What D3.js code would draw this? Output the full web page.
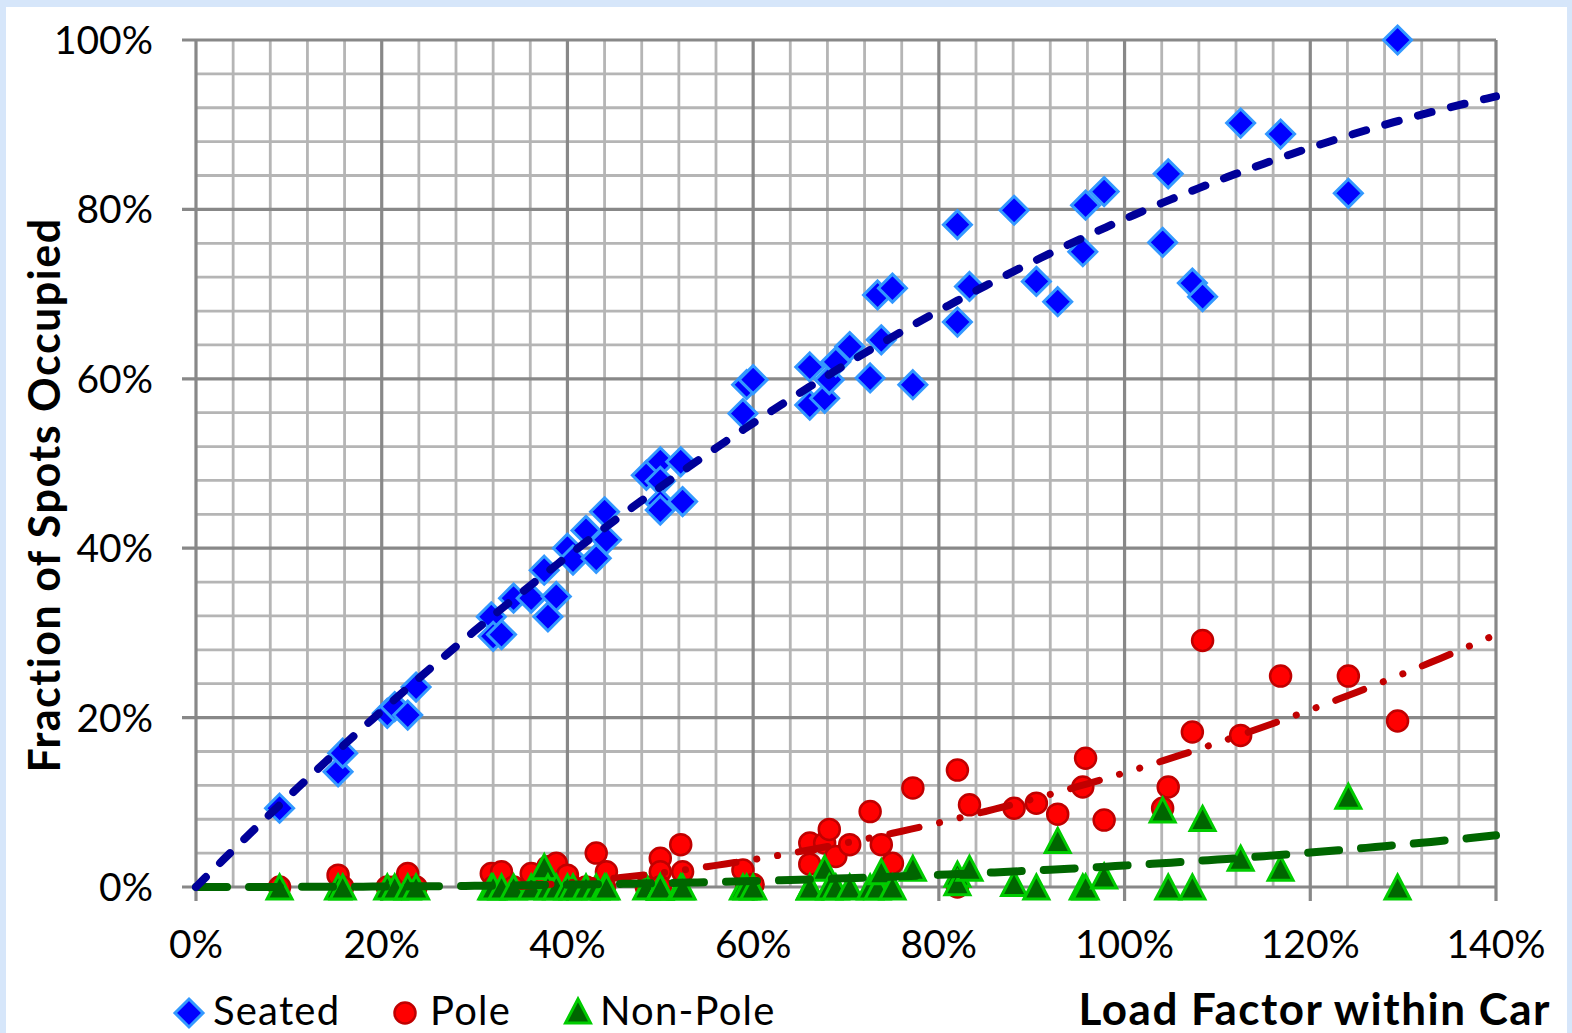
<!DOCTYPE html>
<html>
<head>
<meta charset="utf-8">
<script src="https://cdn.jsdelivr.net/npm/d3@7"></script>
<style>
  html, body { margin: 0; padding: 0; background: #d6e6fa; }
  svg { display: block; font-family: Lato, "Open Sans", sans-serif; }
</style>
</head>
<body>
<svg id="chart" width="1572" height="1033"></svg>
<script>
// load factor within car for each observation
let loadFactor = [
  0.090, 0.153, 0.158, 0.206, 0.214, 0.228, 0.237, 0.318, 0.320, 0.329,
  0.342, 0.361, 0.375, 0.379, 0.388, 0.400, 0.406, 0.420, 0.431, 0.440,
  0.442, 0.485, 0.500, 0.500, 0.500, 0.500, 0.522, 0.524, 0.589, 0.593,
  0.600, 0.661, 0.661, 0.677, 0.682, 0.689, 0.704, 0.726, 0.734, 0.738,
  0.750, 0.772, 0.820, 0.820, 0.833, 0.881, 0.905, 0.928, 0.955, 0.958,
  0.978, 1.041, 1.047, 1.073, 1.084, 1.125, 1.168, 1.241, 1.294
];
let seated = [
  0.093, 0.136, 0.158, 0.205, 0.213, 0.203, 0.236, 0.319, 0.296, 0.298,
  0.341, 0.341, 0.374, 0.319, 0.343, 0.400, 0.386, 0.421, 0.388, 0.443,
  0.410, 0.486, 0.502, 0.479, 0.453, 0.445, 0.502, 0.455, 0.559, 0.593,
  0.599, 0.569, 0.614, 0.577, 0.599, 0.620, 0.638, 0.601, 0.699, 0.646,
  0.707, 0.593, 0.782, 0.667, 0.709, 0.799, 0.715, 0.691, 0.750, 0.805,
  0.821, 0.761, 0.842, 0.713, 0.697, 0.902, 0.889, 0.819, 1.000
];
let pole = [
  0.000, 0.014, 0.000, 0.000, 0.000, 0.016, 0.000, 0.016, 0.000, 0.018,
  0.000, 0.016, 0.000, 0.024, 0.028, 0.014, 0.000, 0.000, 0.040, 0.000,
  0.018, 0.000, 0.034, 0.018, 0.000, 0.000, 0.050, 0.018, 0.020, 0.000,
  0.003, 0.027, 0.052, 0.052, 0.068, 0.036, 0.050, 0.089, 0.000, 0.050,
  0.028, 0.117, 0.138, 0.000, 0.097, 0.093, 0.099, 0.086, 0.118, 0.152,
  0.079, 0.093, 0.118, 0.183, 0.291, 0.179, 0.249, 0.249, 0.196
];
let nonPole = [
  0.000, 0.000, 0.000, 0.000, 0.000, 0.000, 0.000, 0.000, 0.000, 0.000,
  0.000, 0.000, 0.024, 0.000, 0.000, 0.000, 0.000, 0.000, 0.000, 0.000,
  0.000, 0.000, 0.000, 0.000, 0.000, 0.000, 0.000, 0.000, 0.000, 0.000,
  0.000, 0.000, 0.000, 0.022, 0.000, 0.000, 0.000, 0.000, 0.000, 0.018,
  0.000, 0.022, 0.015, 0.005, 0.022, 0.004, 0.000, 0.055, 0.000, 0.000,
  0.013, 0.091, 0.000, 0.000, 0.081, 0.034, 0.022, 0.107, 0.000
];

// polynomial trendline coefficients (c0 + c1 x + c2 x^2 + c3 x^3)
let seatedTrend = [0, 1.104, -0.323, 0.0076];
let poleTrend = [0, -0.0733, 0.2176, -0.0094];
let nonPoleTrend = [0, 0, 0.01084, 0.01448];

let xTicks = [0, 0.2, 0.4, 0.6, 0.8, 1.0, 1.2, 1.4];
let yTicks = [0, 0.2, 0.4, 0.6, 0.8, 1.0];
let legendNames = ["Seated", "Pole", "Non-Pole"];

let svg = d3.select("#chart");

// white panel inside the blue frame
svg.append("rect")
  .attr("x", 6).attr("y", 7).attr("width", 1561).attr("height", 1040)
  .attr("fill", "#ffffff");

let plotLeft = 196, plotRight = 1496, plotTop = 40, plotBottom = 887;

let x = d3.scaleLinear().domain([0, 1.4]).range([plotLeft, plotRight]);
let y = d3.scaleLinear().domain([0, 1]).range([plotBottom, plotTop]);

let grid = svg.append("g");
let minorX = d3.range(0, 36).map((i) => +(i * 0.04).toFixed(2));
let minorY = d3.range(0, 26).map((i) => +(i * 0.04).toFixed(2));

grid.selectAll(".minor-x")
  .data(minorX.filter((d) => Math.round(d * 100) % 20 !== 0))
  .enter().append("line")
  .attr("x1", (d) => x(d)).attr("x2", (d) => x(d))
  .attr("y1", plotTop).attr("y2", plotBottom)
  .attr("stroke", "#b5b5b5").attr("stroke-width", 2.8);

grid.selectAll(".minor-y")
  .data(minorY.filter((d) => Math.round(d * 100) % 20 !== 0))
  .enter().append("line")
  .attr("x1", plotLeft).attr("x2", plotRight)
  .attr("y1", (d) => y(d)).attr("y2", (d) => y(d))
  .attr("stroke", "#b5b5b5").attr("stroke-width", 2.8);

// major lines with outward ticks
grid.selectAll(".major-x")
  .data(xTicks)
  .enter().append("line")
  .attr("x1", (d) => x(d)).attr("x2", (d) => x(d))
  .attr("y1", plotTop).attr("y2", plotBottom + 14)
  .attr("stroke", "#888888").attr("stroke-width", 3.2);

grid.selectAll(".major-y")
  .data(yTicks)
  .enter().append("line")
  .attr("x1", plotLeft - 14).attr("x2", plotRight)
  .attr("y1", (d) => y(d)).attr("y2", (d) => y(d))
  .attr("stroke", "#888888").attr("stroke-width", 3.2);

let pct = d3.format(".0%");

svg.append("g").selectAll("text")
  .data(xTicks)
  .enter().append("text")
  .attr("x", (d) => x(d)).attr("y", 958)
  .attr("text-anchor", "middle")
  .attr("font-size", 39)
  .text(pct);

svg.append("g").selectAll("text")
  .data(yTicks)
  .enter().append("text")
  .attr("x", 153).attr("y", (d) => y(d) + 14)
  .attr("text-anchor", "end")
  .attr("font-size", 39)
  .text(pct);

// markers
let diamond = "M0,-14L14,0L0,14L-14,0Z";
let triangle = "M0,-14L12.5,10L-12.5,10Z";

let rows = loadFactor.map((lf, i) => ({ lf: lf, s: seated[i], p: pole[i], n: nonPole[i] }));

svg.append("g").selectAll("path")
  .data(rows)
  .enter().append("path")
  .attr("d", diamond)
  .attr("transform", (d) => "translate(" + x(d.lf) + "," + y(d.s) + ")")
  .attr("fill", "#0000ff").attr("stroke", "#3399ff").attr("stroke-width", 3);

svg.append("g").selectAll("circle")
  .data(rows)
  .enter().append("circle")
  .attr("cx", (d) => x(d.lf)).attr("cy", (d) => y(d.p)).attr("r", 10.5)
  .attr("fill", "#ff0000").attr("stroke", "#c00000").attr("stroke-width", 2.5);

svg.append("g").selectAll("path")
  .data(rows)
  .enter().append("path")
  .attr("d", triangle)
  .attr("transform", (d) => "translate(" + x(d.lf) + "," + (y(d.n) + 2) + ")")
  .attr("fill", "#006600").attr("stroke", "#00cc00").attr("stroke-width", 3);

// trendlines (only the part at or above zero is drawn)
let poly = (c) => (v) => c[0] + c[1] * v + c[2] * v * v + c[3] * v * v * v;
let trendX = d3.range(0, 141).map((i) => i / 100);
let line = d3.line()
  .defined((d) => d[1] >= 0)
  .x((d) => x(d[0])).y((d) => y(d[1]));

let trends = [
  { c: poleTrend, color: "#c00000", w: 7, dash: "30,21,0.1,21,0.1,21" },
  { c: nonPoleTrend, color: "#006600", w: 8, dash: "31,22" },
  { c: seatedTrend, color: "#000099", w: 8, dash: "14,20" }
];

trends.forEach((t) => {
  let f = poly(t.c);
  svg.append("path")
    .attr("d", line(trendX.map((v) => [v, f(v)])))
    .attr("fill", "none")
    .attr("stroke", t.color)
    .attr("stroke-width", t.w)
    .attr("stroke-linecap", "round")
    .attr("stroke-dasharray", t.dash);
});

// axis titles
svg.append("text")
  .attr("transform", "translate(60,495) rotate(-90)")
  .attr("text-anchor", "middle")
  .attr("font-weight", "bold")
  .attr("font-size", 43)
  .attr("letter-spacing", 1.5)
  .text("Fraction of Spots Occupied");

svg.append("text")
  .attr("x", 1551).attr("y", 1025)
  .attr("text-anchor", "end")
  .attr("font-weight", "bold")
  .attr("font-size", 44)
  .attr("letter-spacing", 1.5)
  .text("Load Factor within Car");

// legend
let legend = svg.append("g");
let legendX = [189, 405, 578];
let legendTextX = [213, 430, 600];

legend.append("path").attr("d", diamond)
  .attr("transform", "translate(" + legendX[0] + ",1013)")
  .attr("fill", "#0000ff").attr("stroke", "#3399ff").attr("stroke-width", 3);
legend.append("circle").attr("cx", legendX[1]).attr("cy", 1013).attr("r", 10.5)
  .attr("fill", "#ff0000").attr("stroke", "#c00000").attr("stroke-width", 2.5);
legend.append("path").attr("d", triangle)
  .attr("transform", "translate(" + legendX[2] + ",1013)")
  .attr("fill", "#006600").attr("stroke", "#00cc00").attr("stroke-width", 3);

legend.selectAll("text")
  .data(legendNames)
  .enter().append("text")
  .attr("x", (d, i) => legendTextX[i]).attr("y", 1025)
  .attr("font-size", 40)
  .attr("letter-spacing", 1.2)
  .text((d) => d);
</script>
</body>
</html>
